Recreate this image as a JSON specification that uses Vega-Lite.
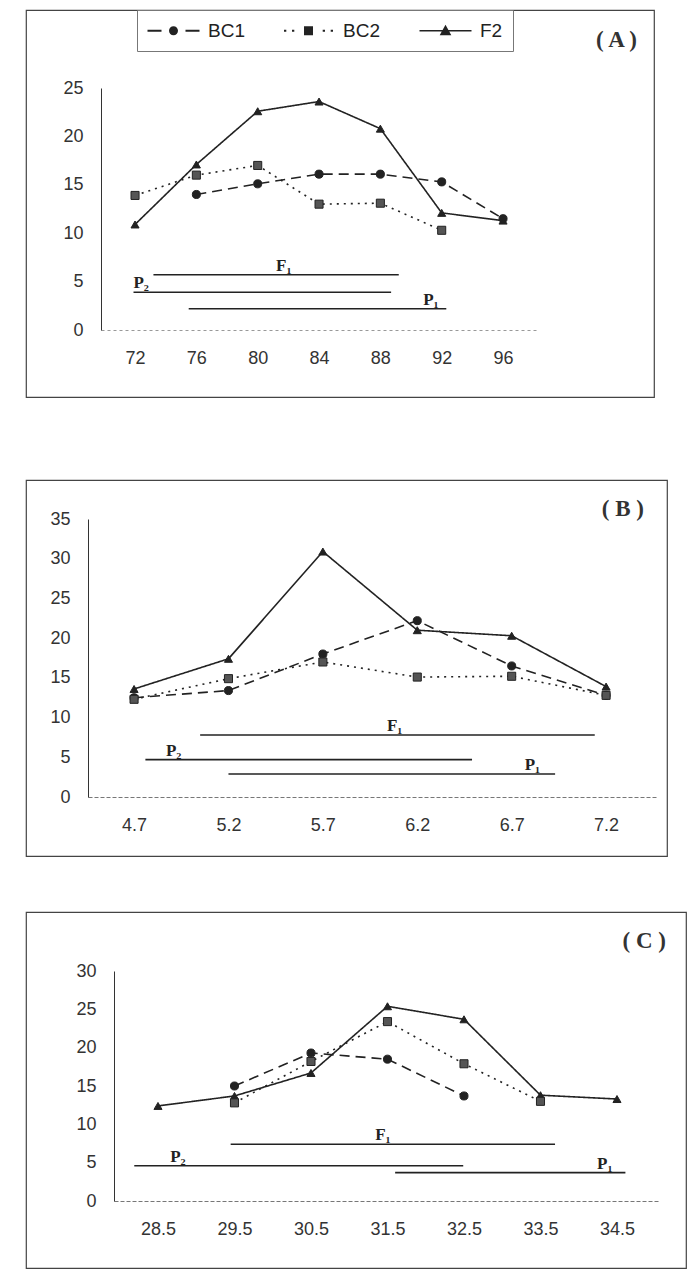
{
  "$schema": "https://vega.github.io/schema/vega-lite/v6.json",
  "padding": {"left": 25, "top": 8, "right": 0, "bottom": 0},
  "background": "white",
  "config": {
    "view": {"stroke": "#444", "strokeWidth": 1.2},
    "font": "Liberation Sans",
    "axis": {"labelFont": "Liberation Sans", "labelFontSize": 18, "labelColor": "#333", "grid": false, "title": null, "labelFlush": false, "labelOverlap": false}
  },
  "datasets": {
    "A": [
      {"x": 72, "y": 10.9, "s": "F2"}, {"x": 76, "y": 17.1, "s": "F2"}, {"x": 80, "y": 22.6, "s": "F2"}, {"x": 84, "y": 23.6, "s": "F2"}, {"x": 88, "y": 20.8, "s": "F2"}, {"x": 92, "y": 12.1, "s": "F2"}, {"x": 96, "y": 11.3, "s": "F2"},
      {"x": 76, "y": 14.0, "s": "BC1"}, {"x": 80, "y": 15.1, "s": "BC1"}, {"x": 84, "y": 16.1, "s": "BC1"}, {"x": 88, "y": 16.1, "s": "BC1"}, {"x": 92, "y": 15.3, "s": "BC1"}, {"x": 96, "y": 11.5, "s": "BC1"},
      {"x": 72, "y": 13.9, "s": "BC2"}, {"x": 76, "y": 16.0, "s": "BC2"}, {"x": 80, "y": 17.0, "s": "BC2"}, {"x": 84, "y": 13.0, "s": "BC2"}, {"x": 88, "y": 13.1, "s": "BC2"}, {"x": 92, "y": 10.3, "s": "BC2"}
    ],
    "Ar": [
      {"name": "F₁", "x1": 73.2, "x2": 89.2, "y": 5.7, "lx": 81.7},
      {"name": "P₂", "x1": 71.9, "x2": 88.7, "y": 3.9, "lx": 72.4},
      {"name": "P₁", "x1": 75.5, "x2": 92.3, "y": 2.2, "lx": 91.3}
    ],
    "B": [
      {"x": 4.7, "y": 13.6, "s": "F2"}, {"x": 5.2, "y": 17.4, "s": "F2"}, {"x": 5.7, "y": 30.9, "s": "F2"}, {"x": 6.2, "y": 21.0, "s": "F2"}, {"x": 6.7, "y": 20.3, "s": "F2"}, {"x": 7.2, "y": 13.9, "s": "F2"},
      {"x": 4.7, "y": 12.5, "s": "BC1"}, {"x": 5.2, "y": 13.4, "s": "BC1"}, {"x": 5.7, "y": 18.0, "s": "BC1"}, {"x": 6.2, "y": 22.2, "s": "BC1"}, {"x": 6.7, "y": 16.5, "s": "BC1"}, {"x": 7.2, "y": 12.8, "s": "BC1"},
      {"x": 4.7, "y": 12.3, "s": "BC2"}, {"x": 5.2, "y": 14.9, "s": "BC2"}, {"x": 5.7, "y": 17.0, "s": "BC2"}, {"x": 6.2, "y": 15.1, "s": "BC2"}, {"x": 6.7, "y": 15.2, "s": "BC2"}, {"x": 7.2, "y": 12.8, "s": "BC2"}
    ],
    "Br": [
      {"name": "F₁", "x1": 5.05, "x2": 7.14, "y": 7.8, "lx": 6.08},
      {"name": "P₂", "x1": 4.76, "x2": 6.49, "y": 4.7, "lx": 4.91},
      {"name": "P₁", "x1": 5.2, "x2": 6.93, "y": 2.9, "lx": 6.81}
    ],
    "C": [
      {"x": 28.5, "y": 12.4, "s": "F2"}, {"x": 29.5, "y": 13.7, "s": "F2"}, {"x": 30.5, "y": 16.7, "s": "F2"}, {"x": 31.5, "y": 25.4, "s": "F2"}, {"x": 32.5, "y": 23.7, "s": "F2"}, {"x": 33.5, "y": 13.8, "s": "F2"}, {"x": 34.5, "y": 13.3, "s": "F2"},
      {"x": 29.5, "y": 15.0, "s": "BC1"}, {"x": 30.5, "y": 19.3, "s": "BC1"}, {"x": 31.5, "y": 18.5, "s": "BC1"}, {"x": 32.5, "y": 13.7, "s": "BC1"},
      {"x": 29.5, "y": 12.8, "s": "BC2"}, {"x": 30.5, "y": 18.2, "s": "BC2"}, {"x": 31.5, "y": 23.4, "s": "BC2"}, {"x": 32.5, "y": 17.9, "s": "BC2"}, {"x": 33.5, "y": 13.0, "s": "BC2"}
    ],
    "Cr": [
      {"name": "F₁", "x1": 29.45, "x2": 33.69, "y": 7.4, "lx": 31.44},
      {"name": "P₂", "x1": 28.19, "x2": 32.49, "y": 4.6, "lx": 28.76},
      {"name": "P₁", "x1": 31.6, "x2": 34.61, "y": 3.7, "lx": 34.34}
    ]
  },
  "spacing": 81,
  "vconcat": [
    {
      "width": 628, "height": 387,
      "title": {"text": "( A )", "anchor": "end", "frame": "group", "orient": "top", "offset": -42, "dx": -17, "font": "Liberation Serif", "fontSize": 23, "fontWeight": "bold", "color": "#333"},
      "resolve": {"scale": {"shape": "independent"}},
      "layer": [
        {
          "data": {"name": "A"},
          "mark": {"type": "line", "color": "#222", "strokeWidth": 1.6},
          "encoding": {
            "x": {"field": "x", "type": "quantitative", "scale": {"domain": [69.78, 98.15], "range": [75, 510], "nice": false, "zero": false}, "axis": {"values": [72, 76, 80, 84, 88, 92, 96], "offset": -67, "ticks": false, "labelPadding": 19, "domainColor": "#999", "domainDash": [3, 3]}},
            "y": {"field": "y", "type": "quantitative", "scale": {"domain": [0, 25], "range": [320, 78], "nice": false}, "axis": {"values": [0, 5, 10, 15, 20, 25], "offset": -75, "ticks": false, "labelPadding": 18, "domainColor": "#333"}},
            "strokeDash": {"field": "s", "type": "nominal", "scale": {"domain": ["BC1", "BC2", "F2"], "range": [[10, 6], [2, 5], [1, 0]]}, "legend": null}
          }
        },
        {
          "data": {"name": "A"},
          "mark": {"type": "point", "filled": true, "size": 65, "stroke": "#222", "strokeWidth": 1, "opacity": 1},
          "encoding": {
            "x": {"field": "x", "type": "quantitative"},
            "y": {"field": "y", "type": "quantitative"},
            "shape": {"field": "s", "type": "nominal", "scale": {"domain": ["BC1", "BC2", "F2"], "range": ["circle", "square", "triangle-up"]}, "legend": null},
            "fill": {"field": "s", "type": "nominal", "scale": {"domain": ["BC1", "BC2", "F2"], "range": ["#222", "#555", "#222"]}, "legend": null}
          }
        },
        {
          "data": {"name": "A"},
          "mark": {"type": "point", "filled": true, "fill": "#222", "stroke": "#222", "strokeWidth": 1.8, "opacity": 0},
          "encoding": {
            "x": {"field": "x", "type": "quantitative"},
            "y": {"field": "y", "type": "quantitative"},
            "shape": {"field": "s", "type": "nominal",
              "scale": {"domain": ["BC1", "BC2", "F2"], "range": [
                "M-2.6,-0.09H-1.2V0.09H-2.6ZM1.2,-0.09H2.6V0.09H1.2ZM-0.45,0A0.45,0.45 0 1,1 0.45,0A0.45,0.45 0 1,1 -0.45,0Z",
                "M-2.45,-0.1H-2.22V0.1H-2.45ZM-1.65,-0.1H-1.42V0.1H-1.65ZM1.42,-0.1H1.65V0.1H1.42ZM2.22,-0.1H2.45V0.1H2.22ZM-0.45,-0.45H0.45V0.45H-0.45Z",
                "M-2.6,-0.08H2.6V0.08H-2.6ZM0,-0.6L0.58,0.45H-0.58Z"
              ]},
              "legend": {"title": null, "orient": "none", "legendX": 111, "legendY": 0, "direction": "horizontal", "symbolSize": 400, "symbolOffset": 16, "labelOffset": 24, "labelFontSize": 19, "labelFont": "Liberation Sans", "labelColor": "#222", "columnPadding": 37, "padding": 10, "strokeColor": "#777",
                "symbolFillColor": "#222", "symbolStrokeColor": "#222", "symbolStrokeWidth": 1, "symbolOpacity": 1}
            }
          }
        },
        {
          "data": {"name": "Ar"},
          "mark": {"type": "rule", "color": "#222", "strokeWidth": 1.6},
          "encoding": {
            "x": {"field": "x1", "type": "quantitative"},
            "x2": {"field": "x2"},
            "y": {"field": "y", "type": "quantitative"}
          }
        },
        {
          "data": {"name": "Ar"},
          "mark": {"type": "text", "font": "Liberation Serif", "fontSize": 17, "fontWeight": "bold", "baseline": "bottom", "dy": 0, "color": "#222"},
          "encoding": {
            "x": {"field": "lx", "type": "quantitative"},
            "y": {"field": "y", "type": "quantitative"},
            "text": {"field": "name"}
          }
        }
      ]
    },
    {
      "spacing": 54,
      "vconcat": [
        {
          "width": 641, "height": 376,
          "title": {"text": "( B )", "anchor": "end", "frame": "group", "orient": "top", "offset": -41, "dx": -23, "font": "Liberation Serif", "fontSize": 23, "fontWeight": "bold", "color": "#333"},
          "layer": [
            {
              "data": {"name": "B"},
              "mark": {"type": "line", "color": "#222", "strokeWidth": 1.6},
              "encoding": {
                "x": {"field": "x", "type": "quantitative", "scale": {"domain": [4.456, 7.475], "range": [62, 632], "nice": false, "zero": false}, "axis": {"values": [4.7, 5.2, 5.7, 6.2, 6.7, 7.2], "offset": -59, "ticks": false, "labelPadding": 19, "domainColor": "#777", "domainDash": [4, 2]}},
                "y": {"field": "y", "type": "quantitative", "scale": {"domain": [0, 35], "range": [317, 39], "nice": false}, "axis": {"values": [0, 5, 10, 15, 20, 25, 30, 35], "offset": -62, "ticks": false, "labelPadding": 18, "domainColor": "#333"}},
                "strokeDash": {"field": "s", "type": "nominal", "scale": {"domain": ["BC1", "BC2", "F2"], "range": [[10, 6], [2, 5], [1, 0]]}, "legend": null}
              }
            },
            {
              "data": {"name": "B"},
              "mark": {"type": "point", "filled": true, "size": 65, "stroke": "#222", "strokeWidth": 1, "opacity": 1},
              "encoding": {
                "x": {"field": "x", "type": "quantitative"},
                "y": {"field": "y", "type": "quantitative"},
                "shape": {"field": "s", "type": "nominal", "scale": {"domain": ["BC1", "BC2", "F2"], "range": ["circle", "square", "triangle-up"]}, "legend": null},
                "fill": {"field": "s", "type": "nominal", "scale": {"domain": ["BC1", "BC2", "F2"], "range": ["#222", "#555", "#222"]}, "legend": null}
              }
            },
            {
              "data": {"name": "Br"},
              "mark": {"type": "rule", "color": "#222", "strokeWidth": 1.6},
              "encoding": {
                "x": {"field": "x1", "type": "quantitative"},
                "x2": {"field": "x2"},
                "y": {"field": "y", "type": "quantitative"}
              }
            },
            {
              "data": {"name": "Br"},
              "mark": {"type": "text", "font": "Liberation Serif", "fontSize": 17, "fontWeight": "bold", "baseline": "bottom", "dy": 0, "color": "#222"},
              "encoding": {
                "x": {"field": "lx", "type": "quantitative"},
                "y": {"field": "y", "type": "quantitative"},
                "text": {"field": "name"}
              }
            }
          ]
        },
        {
          "width": 660, "height": 356,
          "title": {"text": "( C )", "anchor": "end", "frame": "group", "orient": "top", "offset": -41, "dx": -20, "font": "Liberation Serif", "fontSize": 23, "fontWeight": "bold", "color": "#333"},
          "layer": [
            {
              "data": {"name": "C"},
              "mark": {"type": "line", "color": "#222", "strokeWidth": 1.6},
              "encoding": {
                "x": {"field": "x", "type": "quantitative", "scale": {"domain": [27.925, 35.036], "range": [88, 632], "nice": false, "zero": false}, "axis": {"values": [28.5, 29.5, 30.5, 31.5, 32.5, 33.5, 34.5], "offset": -67, "ticks": false, "labelPadding": 19, "domainColor": "#777", "domainDash": [4, 2]}},
                "y": {"field": "y", "type": "quantitative", "scale": {"domain": [0, 30], "range": [289, 59], "nice": false}, "axis": {"values": [0, 5, 10, 15, 20, 25, 30], "offset": -88, "ticks": false, "labelPadding": 18, "domainColor": "#333"}},
                "strokeDash": {"field": "s", "type": "nominal", "scale": {"domain": ["BC1", "BC2", "F2"], "range": [[10, 6], [2, 5], [1, 0]]}, "legend": null}
              }
            },
            {
              "data": {"name": "C"},
              "mark": {"type": "point", "filled": true, "size": 65, "stroke": "#222", "strokeWidth": 1, "opacity": 1},
              "encoding": {
                "x": {"field": "x", "type": "quantitative"},
                "y": {"field": "y", "type": "quantitative"},
                "shape": {"field": "s", "type": "nominal", "scale": {"domain": ["BC1", "BC2", "F2"], "range": ["circle", "square", "triangle-up"]}, "legend": null},
                "fill": {"field": "s", "type": "nominal", "scale": {"domain": ["BC1", "BC2", "F2"], "range": ["#222", "#555", "#222"]}, "legend": null}
              }
            },
            {
              "data": {"name": "Cr"},
              "mark": {"type": "rule", "color": "#222", "strokeWidth": 1.6},
              "encoding": {
                "x": {"field": "x1", "type": "quantitative"},
                "x2": {"field": "x2"},
                "y": {"field": "y", "type": "quantitative"}
              }
            },
            {
              "data": {"name": "Cr"},
              "mark": {"type": "text", "font": "Liberation Serif", "fontSize": 17, "fontWeight": "bold", "baseline": "bottom", "dy": 0, "color": "#222"},
              "encoding": {
                "x": {"field": "lx", "type": "quantitative"},
                "y": {"field": "y", "type": "quantitative"},
                "text": {"field": "name"}
              }
            }
          ]
        }
      ]
    }
  ]
}
